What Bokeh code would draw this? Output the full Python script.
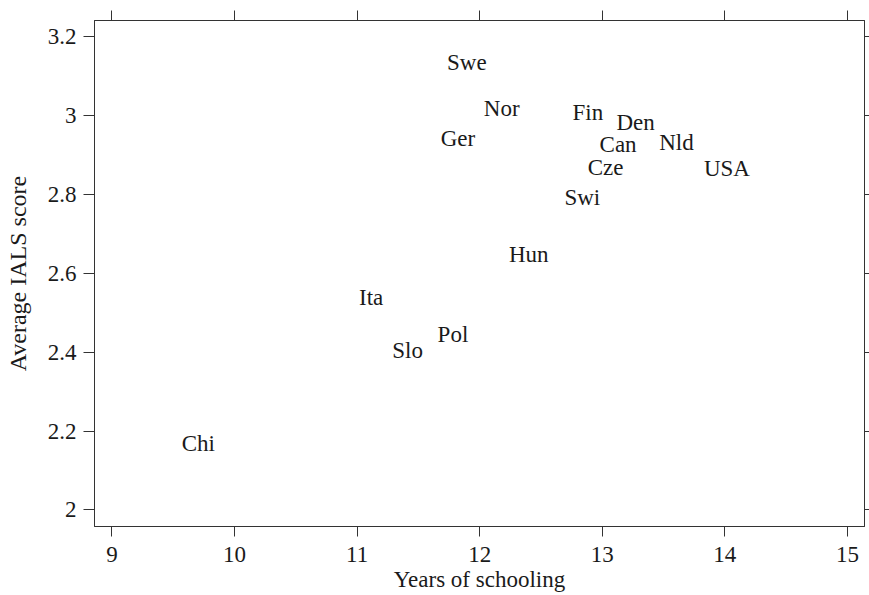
from bokeh.plotting import figure
from bokeh.models import (ColumnDataSource, FixedTicker, LinearAxis, Range1d,
                          CustomJSTickFormatter)
from bokeh.core.properties import value
from bokeh.embed import file_html
from bokeh.resources import INLINE

countries = ["Swe", "Nor", "Ger", "Fin", "Den", "Can", "Nld", "Cze", "USA", "Swi",
             "Hun", "Ita", "Pol", "Slo", "Chi"]
years = [11.895, 12.18, 11.823, 12.882, 13.272, 13.129, 13.605, 13.027, 14.017, 12.837,
         12.40, 11.115, 11.782, 11.412, 9.705]
scores = [3.134, 3.018, 2.941, 3.007, 2.983, 2.925, 2.932, 2.8675, 2.8655, 2.793,
          2.647, 2.539, 2.445, 2.405, 2.169]

x_ticks = [9, 10, 11, 12, 13, 14, 15]
y_ticks = [2.0, 2.2, 2.4, 2.6, 2.8, 3.0, 3.2]
x_title = "Years of schooling"
y_title = "Average IALS score"

FONT = "Liberation Serif"
INK = "#1a1a1a"
LINE = "#333333"

p = figure(width=869, height=595, output_backend="svg", toolbar_location=None,
           x_range=Range1d(8.858, 15.139), y_range=Range1d(1.958, 3.2405),
           min_border_left=94, min_border_right=5, min_border_top=20, min_border_bottom=69,
           x_axis_label=x_title, y_axis_label=y_title)

p.grid.visible = False
p.outline_line_color = LINE
p.outline_line_width = 1
p.background_fill_color = "white"
p.border_fill_color = "white"

fmt = CustomJSTickFormatter(code="return tick.toFixed(1).replace(/\\.0$/, '');")
blank = CustomJSTickFormatter(code="return '';")

for ax in p.xaxis:
    ax.ticker = FixedTicker(ticks=x_ticks)
for ax in p.yaxis:
    ax.ticker = FixedTicker(ticks=y_ticks)
    ax.formatter = fmt

for ax in list(p.xaxis) + list(p.yaxis):
    ax.axis_line_color = LINE
    ax.major_tick_line_color = LINE
    ax.minor_tick_line_color = None
    ax.major_tick_in = 0
    ax.major_tick_out = 11
    ax.major_label_text_font = FONT
    ax.major_label_text_font_size = "23px"
    ax.major_label_text_color = INK
    ax.axis_label_text_font = FONT
    ax.axis_label_text_font_style = "normal"
    ax.axis_label_text_color = INK

p.xaxis.major_tick_out = 10
p.xaxis.major_label_standoff = 10
p.xaxis.axis_label_text_font_size = "23px"
p.xaxis.axis_label_standoff = 2
p.yaxis.major_label_standoff = 7
p.yaxis.axis_label_text_font_size = "24px"
p.yaxis.axis_label_standoff = 14

top = LinearAxis(ticker=FixedTicker(ticks=x_ticks), formatter=blank,
                 major_label_text_font_size="0px",
                 major_label_standoff=0, major_tick_in=0, major_tick_out=10,
                 minor_tick_line_color=None, axis_line_color=LINE, major_tick_line_color=LINE)
right = LinearAxis(ticker=FixedTicker(ticks=y_ticks), formatter=blank,
                   major_label_text_font_size="0px",
                   major_label_standoff=0, major_tick_in=0, major_tick_out=5,
                   minor_tick_line_color=None, axis_line_color=LINE, major_tick_line_color=LINE)
p.add_layout(top, "above")
p.add_layout(right, "right")

src = ColumnDataSource(dict(x=years, y=scores, label=countries))
p.text(x="x", y="y", text="label", source=src, text_font=value(FONT),
       text_font_size="23px", text_color=INK, text_align="center", text_baseline="middle")

open("out.html", "w").write(file_html(p, INLINE))
